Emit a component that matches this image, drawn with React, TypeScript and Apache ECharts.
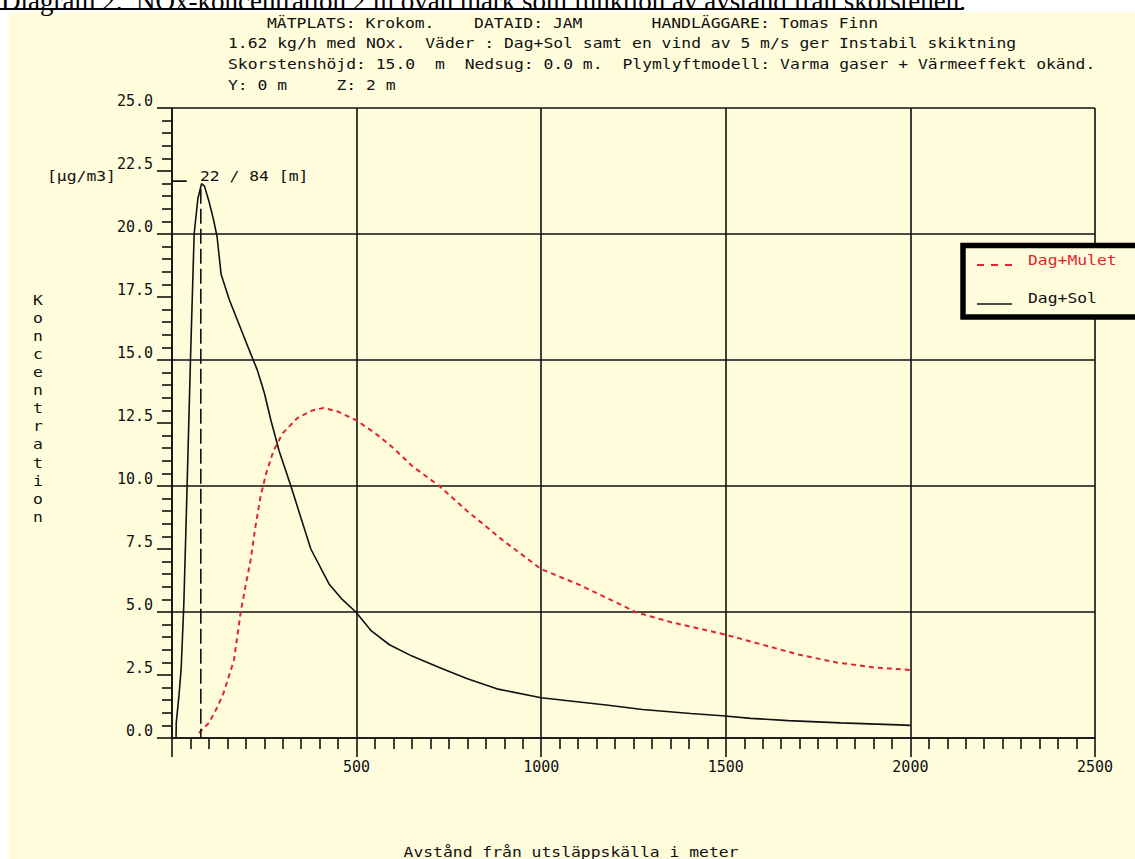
import React, { useEffect, useRef } from 'react';
import * as echarts from 'echarts';

// ---- data ----
const solDist = [11, 11.5, 19, 25, 32, 40, 50, 60, 70, 80, 88, 100, 112, 122, 133, 155, 182, 209, 231, 250, 268, 290, 322, 350, 376, 426, 461, 498, 540, 589, 650, 724, 800, 880, 1000, 1091, 1182, 1274, 1405, 1490, 1568, 1669, 1811, 1968, 2000];
const solConc = [0, 0.6, 1.7, 2.8, 5.3, 9.5, 15, 20, 21.4, 22.0, 21.9, 21.3, 20.6, 19.9, 18.4, 17.4, 16.4, 15.4, 14.6, 13.7, 12.6, 11.4, 10.0, 8.7, 7.5, 6.1, 5.5, 5.0, 4.25, 3.7, 3.25, 2.8, 2.35, 1.95, 1.6, 1.45, 1.3, 1.13, 0.97, 0.88, 0.78, 0.69, 0.6, 0.52, 0.5];
const muletDist = [73, 100, 123, 140, 155, 168, 186, 200, 213, 225, 240, 255, 275, 300, 340, 380, 411, 450, 500, 550, 600, 650, 724, 800, 900, 1000, 1100, 1200, 1255, 1350, 1500, 1600, 1700, 1800, 1900, 2000];
const muletConc = [0.2, 0.6, 1.23, 1.8, 2.5, 3.1, 5.0, 6.1, 7.06, 8.3, 9.6, 10.5, 11.4, 12.1, 12.7, 13.0, 13.1, 12.95, 12.6, 12.1, 11.5, 10.8, 10.0, 9.0, 7.8, 6.7, 6.1, 5.4, 5.0, 4.6, 4.1, 3.7, 3.3, 3.0, 2.8, 2.7];
const peakValue = 22;
const peakDistance = 84;
const peakLineDist = 78;
const peakMarkerRange = [0, 40];
const xMin = 0, xMax = 2500, xStep = 500;
const yMin = 0, yMax = 25, yStep = 2.5, yGridStep = 5;
const seriesNames = ['Dag+Mulet', 'Dag+Sol'];

const titleText = 'Diagram 2.  NOx-koncentration 2 m ovan mark som funktion av avstånd från skorstenen.';
const headerTexts = [
  'MÄTPLATS: Krokom.    DATAID: JAM       HANDLÄGGARE: Tomas Finn',
  '1.62 kg/h med NOx.  Väder : Dag+Sol samt en vind av 5 m/s ger Instabil skiktning',
  'Skorstenshöjd: 15.0  m  Nedsug: 0.0 m.  Plymlyftmodell: Varma gaser + Värmeeffekt okänd.',
  'Y: 0 m     Z: 2 m',
];
const unitText = '[µg/m3]';
const yTitle = 'Koncentration';
const xTitle = 'Avstånd från utsläppskälla i meter';

// ---- style ----
const BG = '#FFFCDC';
const INK = '#111';
const RED = '#E0262B';
const MONO = '"DejaVu Sans Mono", monospace';
const FS = 14;
const SX = 1.17;
const ADV = FS * 0.602 * SX;

function monoText(text: string, x: number, y: number, fill = INK, align = 'left'): any[] {
  const out: any[] = [];
  if (align === 'center') {
    return [{
      type: 'text', x, y, scaleX: SX, z: 50,
      style: { text, fontSize: FS, fontFamily: MONO, fill, align: 'center', verticalAlign: 'middle', textAlign: 'center', textVerticalAlign: 'middle' },
    }];
  }
  const re = /\S+(?: \S+)*/g;
  let m: RegExpExecArray | null;
  while ((m = re.exec(text)) !== null) {
    out.push({
      type: 'text', x: x + m.index * ADV, y, scaleX: SX, z: 50,
      style: { text: m[0], fontSize: FS, fontFamily: MONO, fill, align: 'left', verticalAlign: 'middle', textAlign: 'left', textVerticalAlign: 'middle' },
    });
  }
  return out;
}

export default function App() {
  const ref = useRef<HTMLDivElement>(null);
  useEffect(() => {
    if (!ref.current) return;
    const chart = echarts.init(ref.current, null, { renderer: 'svg' });
    const axisLine = { show: true, lineStyle: { color: INK, width: 1.6 } };
    const labelFont = { fontSize: 15, fontFamily: MONO, color: INK };

    const headerY = [23, 43, 64, 85];
    const headerX = [267, 228, 228, 228];
    const graphics: any[] = [
      { type: 'rect', shape: { x: 0, y: 0, width: 1135, height: 12.5 }, style: { fill: '#fff' }, z: 40 },
      { type: 'rect', shape: { x: 0, y: 0, width: 9, height: 859 }, style: { fill: '#fff' }, z: 40 },
      {
        type: 'text', x: 1, y: 14, z: 50,
        style: { text: titleText, fontSize: 27, fontFamily: '"Liberation Serif", serif', fill: '#000', align: 'left', verticalAlign: 'bottom', textAlign: 'left', textVerticalAlign: 'bottom' },
      },
      { type: 'rect', shape: { x: 0, y: 8, width: 963, height: 2 }, style: { fill: '#000' }, z: 50 },
    ];
    headerTexts.forEach((t, i) => graphics.push(...monoText(t, headerX[i], headerY[i])));
    graphics.push(...monoText(unitText, 47, 176));
    graphics.push(...monoText(`${peakValue} / ${peakDistance} [m]`, 200, 176));
    graphics.push(...monoText(xTitle, 571, 852, INK, 'center'));
    graphics.push({
      type: 'text', x: 38, y: 291, scaleX: SX, z: 50,
      style: {
        text: yTitle.split('').join('\n'), fontSize: FS, fontFamily: MONO, fill: INK, lineHeight: 18.1,
        align: 'center', verticalAlign: 'top', textAlign: 'center', textVerticalAlign: 'top',
      },
    });
    // legend
    graphics.push({
      type: 'group', z: 60,
      children: [
        { type: 'rect', z: 60, shape: { x: 963, y: 245.5, width: 190, height: 71.5 }, style: { fill: BG, stroke: '#000', lineWidth: 5.5 } },
        { type: 'line', z: 61, shape: { x1: 977, y1: 265, x2: 1012, y2: 265 }, style: { stroke: RED, lineWidth: 2, lineDash: [7, 7] } },
        { type: 'line', z: 61, shape: { x1: 977, y1: 304, x2: 1012, y2: 304 }, style: { stroke: INK, lineWidth: 1.6 } },
      ],
    });
    graphics.push(...monoText(seriesNames[0], 1028, 260, RED).map((g) => ({ ...g, z: 62 })));
    graphics.push(...monoText(seriesNames[1], 1028, 298, INK).map((g) => ({ ...g, z: 62 })));

    chart.setOption({
      animation: false,
      backgroundColor: BG,
      grid: { left: 172, right: 40, top: 108, bottom: 121, containLabel: false },
      xAxis: {
        type: 'value', min: xMin, max: xMax, interval: xStep,
        axisLine,
        axisTick: { show: true, length: 19, lineStyle: { color: INK, width: 1.6 } },
        minorTick: { show: true, splitNumber: 10, length: 11, lineStyle: { color: INK, width: 1.6 } },
        axisLabel: { ...labelFont, margin: 21, showMinLabel: false, formatter: (v: number) => (v === 0 ? '' : String(v)) },
        splitLine: { show: true, lineStyle: { color: INK, width: 1.6 } },
        minorSplitLine: { show: false },
      },
      yAxis: [
        {
          type: 'value', min: yMin, max: yMax, interval: yStep,
          axisLine,
          axisTick: { show: true, length: 15, lineStyle: { color: INK, width: 1.6 } },
          minorTick: { show: true, splitNumber: 5, length: 10, lineStyle: { color: INK, width: 1.6 } },
          axisLabel: { ...labelFont, margin: 19, verticalAlign: 'bottom', lineHeight: 15, formatter: (v: number) => v.toFixed(1) },
          splitLine: { show: false },
        },
        {
          type: 'value', min: yMin, max: yMax, interval: yGridStep, position: 'left',
          axisLine: { show: false }, axisTick: { show: false }, axisLabel: { show: false },
          splitLine: { show: true, lineStyle: { color: INK, width: 1.6 } },
        },
      ],
      series: [
        {
          name: seriesNames[0], type: 'line', yAxisIndex: 0, showSymbol: false, symbol: 'none',
          data: muletDist.map((d, i) => [d, muletConc[i]]),
          lineStyle: { color: RED, width: 2, type: [5, 4] }, z: 5,
        },
        {
          name: seriesNames[1], type: 'line', yAxisIndex: 0, showSymbol: false, symbol: 'none',
          data: solDist.map((d, i) => [d, solConc[i]]),
          lineStyle: { color: INK, width: 1.6 }, z: 6,
        },
        {
          type: 'line', yAxisIndex: 0, showSymbol: false, symbol: 'none',
          data: [[peakLineDist, peakValue - 0.2], [peakLineDist, 0]],
          lineStyle: { color: INK, width: 1.6, type: [15, 5] }, z: 6,
        },
        {
          type: 'line', yAxisIndex: 0, showSymbol: false, symbol: 'none',
          data: peakMarkerRange.map((d) => [d, peakValue + 0.1]),
          lineStyle: { color: INK, width: 1.6 }, z: 6,
        },
      ],
      graphic: { elements: graphics },
    });
    return () => chart.dispose();
  }, []);
  return <div ref={ref} style={{ position: 'absolute', left: 0, top: 0, width: 1135, height: 859 }} />;
}
